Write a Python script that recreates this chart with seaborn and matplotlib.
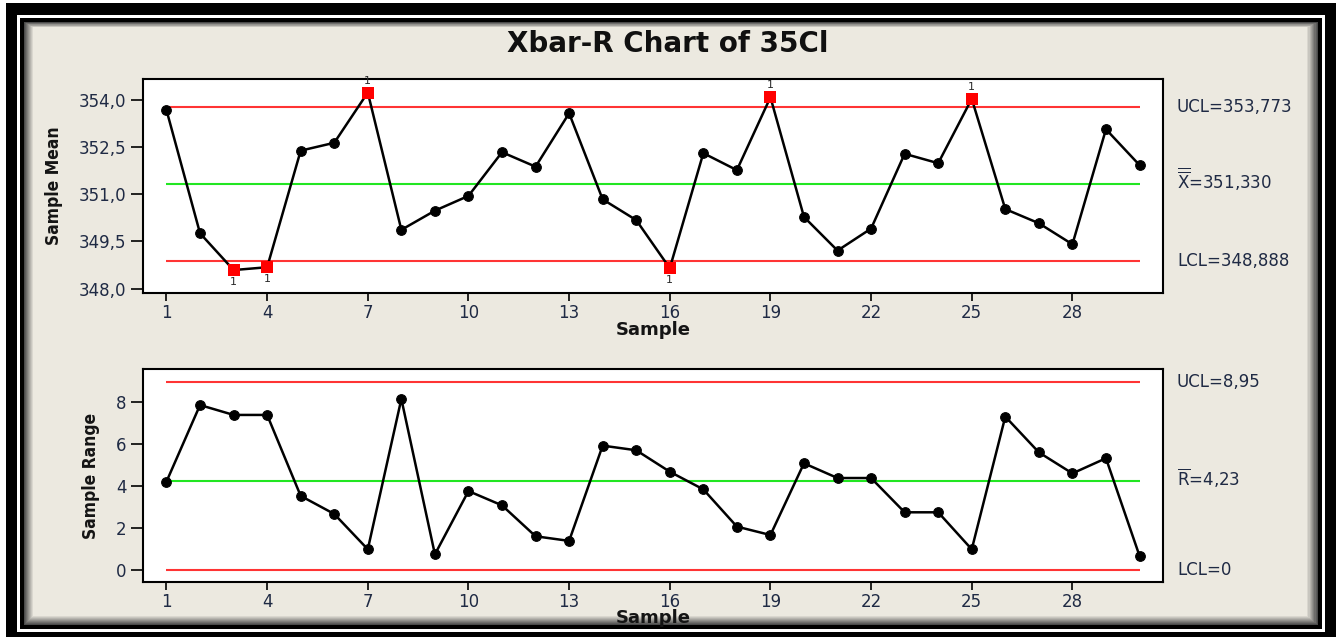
import pandas as pd
import matplotlib
matplotlib.use('Agg')
import matplotlib.pyplot as plt
from matplotlib.patches import Rectangle
from matplotlib.colors import to_rgb
from matplotlib.transforms import offset_copy
import seaborn as sns

# datos
samples = list(range(1, 31))
xbar = [353.68, 349.76, 348.59, 348.68, 352.39, 352.64, 354.24, 349.87, 350.48, 350.95,
        352.34, 351.88, 353.58, 350.84, 350.18, 348.65, 352.31, 351.77, 354.09, 350.28,
        349.21, 349.91, 352.29, 351.99, 354.04, 350.53, 350.08, 349.41, 353.07, 351.93]
ranges = [4.20, 7.84, 7.37, 7.37, 3.52, 2.66, 0.98, 8.13, 0.74, 3.75,
          3.07, 1.60, 1.38, 5.91, 5.69, 4.67, 3.83, 2.06, 1.66, 5.07,
          4.37, 4.37, 2.74, 2.74, 0.98, 7.29, 5.59, 4.59, 5.31, 0.67]

xbar_ucl, xbar_cl, xbar_lcl = 353.773, 351.330, 348.888
r_ucl, r_cl, r_lcl = 8.95, 4.23, 0.0

x_ticks = [1, 4, 7, 10, 13, 16, 19, 22, 25, 28]
xbar_ticks = [348.0, 349.5, 351.0, 352.5, 354.0]
xbar_tick_labels = ['348,0', '349,5', '351,0', '352,5', '354,0']
r_ticks = [0, 2, 4, 6, 8]

xbar_limit_labels = ['UCL=353,773', r'$\overline{\overline{\mathrm{X}}}$=351,330', 'LCL=348,888']
r_limit_labels = ['UCL=8,95', r'$\overline{\mathrm{R}}$=4,23', 'LCL=0']

df = pd.DataFrame({'Sample': samples, 'Mean': xbar, 'Range': ranges})

sns.set_style('white')
plt.rcParams['font.family'] = ['DejaVu Sans']
plt.rcParams['mathtext.fontset'] = 'dejavusans'

W, H = 1339, 638
fig = plt.figure(figsize=(W / 100, H / 100), dpi=100)
fig.patch.set_facecolor('white')


def px_rect(x0, y0, x1, y1, color, z):
    fig.add_artist(Rectangle((x0 / W, 1 - y1 / H), (x1 - x0) / W, (y1 - y0) / H,
                             transform=fig.transFigure, facecolor=color,
                             edgecolor='none', zorder=z))


# marco tipo ventana
beige = '#ece9e0'
px_rect(6, 3, 1336, 637, 'black', -30)
px_rect(17, 15, 1325, 632, 'white', -29)
px_rect(20, 18, 1322, 629, 'black', -28)
c0 = to_rgb('#4a4a4a')
c1 = to_rgb(beige)
n = 9
for i in range(n + 1):
    t = i / n
    col = tuple(a + (b - a) * t for a, b in zip(c0, c1))
    px_rect(24 + i, 22 + i * 0.6, 1318 - i * 1.2, 625 - i * 1.0, col, -27 + i * 0.01)

fig.text(668 / W, 1 - 44 / H, 'Xbar-R Chart of 35Cl', ha='center', va='center',
         fontsize=20, fontweight='heavy', color='#101010')

ax1 = fig.add_axes([143 / W, 1 - 293 / H, 1020 / W, 214 / H])
ax2 = fig.add_axes([143 / W, 1 - 581.7 / H, 1020 / W, 212.4 / H])

red = '#ff3434'
green = '#22e622'
txt = '#1f2a44'

for ax, col, ucl, cl, lcl, labels in [
        (ax1, 'Mean', xbar_ucl, xbar_cl, xbar_lcl, xbar_limit_labels),
        (ax2, 'Range', r_ucl, r_cl, r_lcl, r_limit_labels)]:
    ax.set_facecolor('white')
    ax.hlines([ucl, lcl], 1, 30, color=red, lw=1.5, zorder=1)
    ax.hlines(cl, 1, 30, color=green, lw=1.5, zorder=1)
    sns.lineplot(data=df, x='Sample', y=col, ax=ax, color='black', lw=1.8,
                 marker='o', markersize=7, markeredgecolor='black', zorder=3)
    out = df[(df[col] > ucl) | (df[col] < lcl)]
    if len(out):
        sns.scatterplot(data=out, x='Sample', y=col, ax=ax, marker='s', color='red',
                        s=65, linewidth=0, zorder=4)
        for _, r in out.iterrows():
            dy = 8.5 if r[col] > ucl else -8.5
            ax.annotate('1', (r['Sample'], r[col]), xytext=(0, dy), textcoords='offset points',
                        ha='center', va='center', fontsize=8, color='#2a2a2a')
    ytr = offset_copy(ax.get_yaxis_transform(), fig=fig, y=-5, units='dots')
    for v, lab in zip([ucl, cl, lcl], labels):
        ax.text(1.0137, v, lab, transform=ytr, ha='left', va='baseline', fontsize=12, color=txt)
    ax.set_xlim(0.3, 30.7)
    ax.set_xticks(x_ticks)
    ax.set_xlabel('Sample', fontsize=13, fontweight='bold', color='#141414', labelpad=-1)
    for s in ax.spines.values():
        s.set_color('black')
        s.set_linewidth(1.5)
    ax.tick_params(axis='x', direction='out', length=6, width=1.2, color='black',
                   labelsize=12, labelcolor=txt, bottom=True, pad=2)
    ax.tick_params(axis='y', direction='out', length=9, width=1.2, color='black',
                   labelsize=12, labelcolor=txt, left=True, pad=3)

ax1.set_ylim(347.86, 354.67)
ax1.set_yticks(xbar_ticks)
ax1.set_yticklabels(xbar_tick_labels)
ax1.set_ylabel('Sample Mean', fontsize=12.5, fontweight='bold', color='#141414',
               fontstretch='condensed', labelpad=11)

ax2.set_ylim(-0.56, 9.54)
ax2.set_yticks(r_ticks)
ax2.set_ylabel('Sample Range', fontsize=12.5, fontweight='bold', color='#141414',
               fontstretch='condensed', labelpad=11)

fig.savefig('out.png', dpi=100)
